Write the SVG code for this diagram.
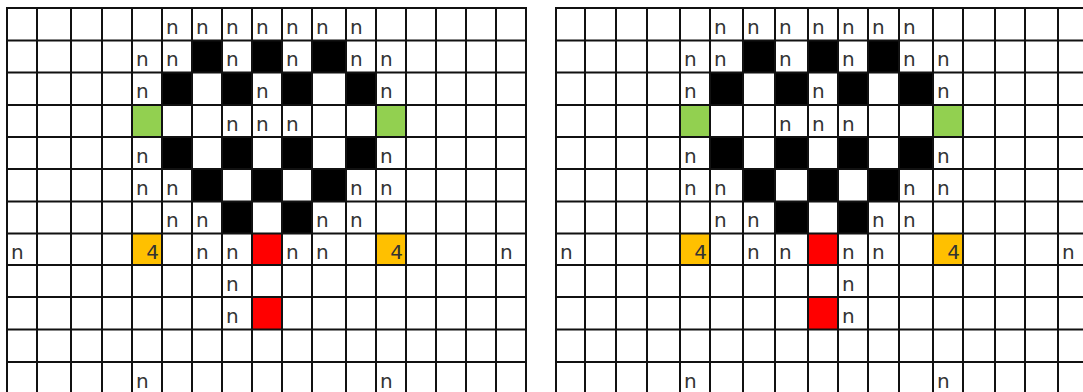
<svg xmlns="http://www.w3.org/2000/svg" width="1083" height="392" viewBox="0 0 1083 392">
<style>
.bk{fill:#000}
.gr{fill:#92D050}
.or{fill:#FFC000}
.rd{fill:#FF0000}
.gl{stroke:#111;stroke-width:2;fill:none}
text{font-family:"DejaVu Sans","Liberation Sans",sans-serif;font-size:20px;fill:#333}
.num{text-anchor:end}
</style>
<rect width="1083" height="392" fill="#fff"/>
<g id="grid-left">
<g id="left-fills">
<rect class="bk" x="192" y="40.5" width="30" height="32"/>
<rect class="bk" x="252" y="40.5" width="30" height="32"/>
<rect class="bk" x="312" y="40.5" width="34" height="32"/>
<rect class="bk" x="162" y="72.5" width="30" height="32.5"/>
<rect class="bk" x="222" y="72.5" width="30" height="32.5"/>
<rect class="bk" x="282" y="72.5" width="30" height="32.5"/>
<rect class="bk" x="346" y="72.5" width="30" height="32.5"/>
<rect class="bk" x="162" y="137" width="30" height="32"/>
<rect class="bk" x="222" y="137" width="30" height="32"/>
<rect class="bk" x="282" y="137" width="30" height="32"/>
<rect class="bk" x="346" y="137" width="30" height="32"/>
<rect class="bk" x="192" y="169" width="30" height="32.5"/>
<rect class="bk" x="252" y="169" width="30" height="32.5"/>
<rect class="bk" x="312" y="169" width="34" height="32.5"/>
<rect class="bk" x="222" y="201.5" width="30" height="32"/>
<rect class="bk" x="282" y="201.5" width="30" height="32"/>
<rect class="gr" x="132" y="105" width="30" height="32"/>
<rect class="gr" x="376" y="105" width="30" height="32"/>
<rect class="or" x="132" y="233.5" width="30" height="31.5"/>
<rect class="or" x="376" y="233.5" width="30" height="31.5"/>
<rect class="rd" x="252" y="233.5" width="30" height="31.5"/>
<rect class="rd" x="252" y="297" width="30" height="32.5"/>
</g>
<g id="left-lines" class="gl">
<path d="M7 8V392M37 8V392M71 8V392M102 8V392M132 8V392M162 8V392M192 8V392M222 8V392M252 8V392M282 8V392M312 8V392M346 8V392M376 8V392M406 8V392M436 8V392M466 8V392M496 8V392M526 8V392"/>
<path d="M6 8H527M6 40.5H527M6 72.5H527M6 105H527M6 137H527M6 169H527M6 201.5H527M6 233.5H527M6 265H527M6 297H527M6 329.5H527M6 362H527"/>
</g>
<g id="left-text">
<text x="166" y="33.5">n</text><text x="196" y="33.5">n</text><text x="226" y="33.5">n</text><text x="256" y="33.5">n</text><text x="286" y="33.5">n</text><text x="316" y="33.5">n</text><text x="350" y="33.5">n</text>
<text x="136" y="66">n</text><text x="166" y="66">n</text><text x="226" y="66">n</text><text x="286" y="66">n</text><text x="350" y="66">n</text><text x="380" y="66">n</text>
<text x="136" y="98">n</text><text x="256" y="98">n</text><text x="380" y="98">n</text>
<text x="226" y="130.5">n</text><text x="256" y="130.5">n</text><text x="286" y="130.5">n</text>
<text x="136" y="162.5">n</text><text x="380" y="162.5">n</text>
<text x="136" y="194.5">n</text><text x="166" y="194.5">n</text><text x="350" y="194.5">n</text><text x="380" y="194.5">n</text>
<text x="166" y="227">n</text><text x="196" y="227">n</text><text x="316" y="227">n</text><text x="350" y="227">n</text>
<text x="11" y="259">n</text><text class="num" x="159" y="259">4</text><text x="196" y="259">n</text><text x="226" y="259">n</text><text x="286" y="259">n</text><text x="316" y="259">n</text><text class="num" x="403" y="259">4</text><text x="500" y="259">n</text>
<text x="226" y="290.5">n</text>
<text x="226" y="322.5">n</text>
<text x="136" y="387.5">n</text><text x="380" y="387.5">n</text>
</g>
</g>
<g id="grid-right">
<g id="right-fills">
<rect class="bk" x="743" y="40.5" width="32" height="32"/>
<rect class="bk" x="808" y="40.5" width="30" height="32"/>
<rect class="bk" x="868" y="40.5" width="31" height="32"/>
<rect class="bk" x="710" y="72.5" width="33" height="32.5"/>
<rect class="bk" x="775" y="72.5" width="33" height="32.5"/>
<rect class="bk" x="838" y="72.5" width="30" height="32.5"/>
<rect class="bk" x="899" y="72.5" width="34" height="32.5"/>
<rect class="bk" x="710" y="137" width="33" height="32"/>
<rect class="bk" x="775" y="137" width="33" height="32"/>
<rect class="bk" x="838" y="137" width="30" height="32"/>
<rect class="bk" x="899" y="137" width="34" height="32"/>
<rect class="bk" x="743" y="169" width="32" height="32.5"/>
<rect class="bk" x="808" y="169" width="30" height="32.5"/>
<rect class="bk" x="868" y="169" width="31" height="32.5"/>
<rect class="bk" x="775" y="201.5" width="33" height="32"/>
<rect class="bk" x="838" y="201.5" width="30" height="32"/>
<rect class="gr" x="680" y="105" width="30" height="32"/>
<rect class="gr" x="933" y="105" width="30" height="32"/>
<rect class="or" x="680" y="233.5" width="30" height="31.5"/>
<rect class="or" x="933" y="233.5" width="30" height="31.5"/>
<rect class="rd" x="808" y="233.5" width="30" height="31.5"/>
<rect class="rd" x="808" y="297" width="30" height="32.5"/>
</g>
<g id="right-lines" class="gl">
<path d="M556 8V392M585 8V392M616 8V392M647 8V392M680 8V392M710 8V392M743 8V392M775 8V392M808 8V392M838 8V392M868 8V392M899 8V392M933 8V392M963 8V392M995 8V392M1025 8V392M1058 8V392"/>
<path d="M555 8H1083M555 40.5H1083M555 72.5H1083M555 105H1083M555 137H1083M555 169H1083M555 201.5H1083M555 233.5H1083M555 265H1083M555 297H1083M555 329.5H1083M555 362H1083"/>
</g>
<g id="right-text">
<text x="714" y="33.5">n</text><text x="747" y="33.5">n</text><text x="779" y="33.5">n</text><text x="812" y="33.5">n</text><text x="842" y="33.5">n</text><text x="872" y="33.5">n</text><text x="903" y="33.5">n</text>
<text x="684" y="66">n</text><text x="714" y="66">n</text><text x="779" y="66">n</text><text x="842" y="66">n</text><text x="903" y="66">n</text><text x="937" y="66">n</text>
<text x="684" y="98">n</text><text x="812" y="98">n</text><text x="937" y="98">n</text>
<text x="779" y="130.5">n</text><text x="812" y="130.5">n</text><text x="842" y="130.5">n</text>
<text x="684" y="162.5">n</text><text x="937" y="162.5">n</text>
<text x="684" y="194.5">n</text><text x="714" y="194.5">n</text><text x="903" y="194.5">n</text><text x="937" y="194.5">n</text>
<text x="714" y="227">n</text><text x="747" y="227">n</text><text x="872" y="227">n</text><text x="903" y="227">n</text>
<text x="560" y="259">n</text><text class="num" x="707" y="259">4</text><text x="747" y="259">n</text><text x="779" y="259">n</text><text x="842" y="259">n</text><text x="872" y="259">n</text><text class="num" x="960" y="259">4</text><text x="1062" y="259">n</text>
<text x="842" y="290.5">n</text>
<text x="842" y="322.5">n</text>
<text x="684" y="387.5">n</text><text x="937" y="387.5">n</text>
</g>
</g>
</svg>
